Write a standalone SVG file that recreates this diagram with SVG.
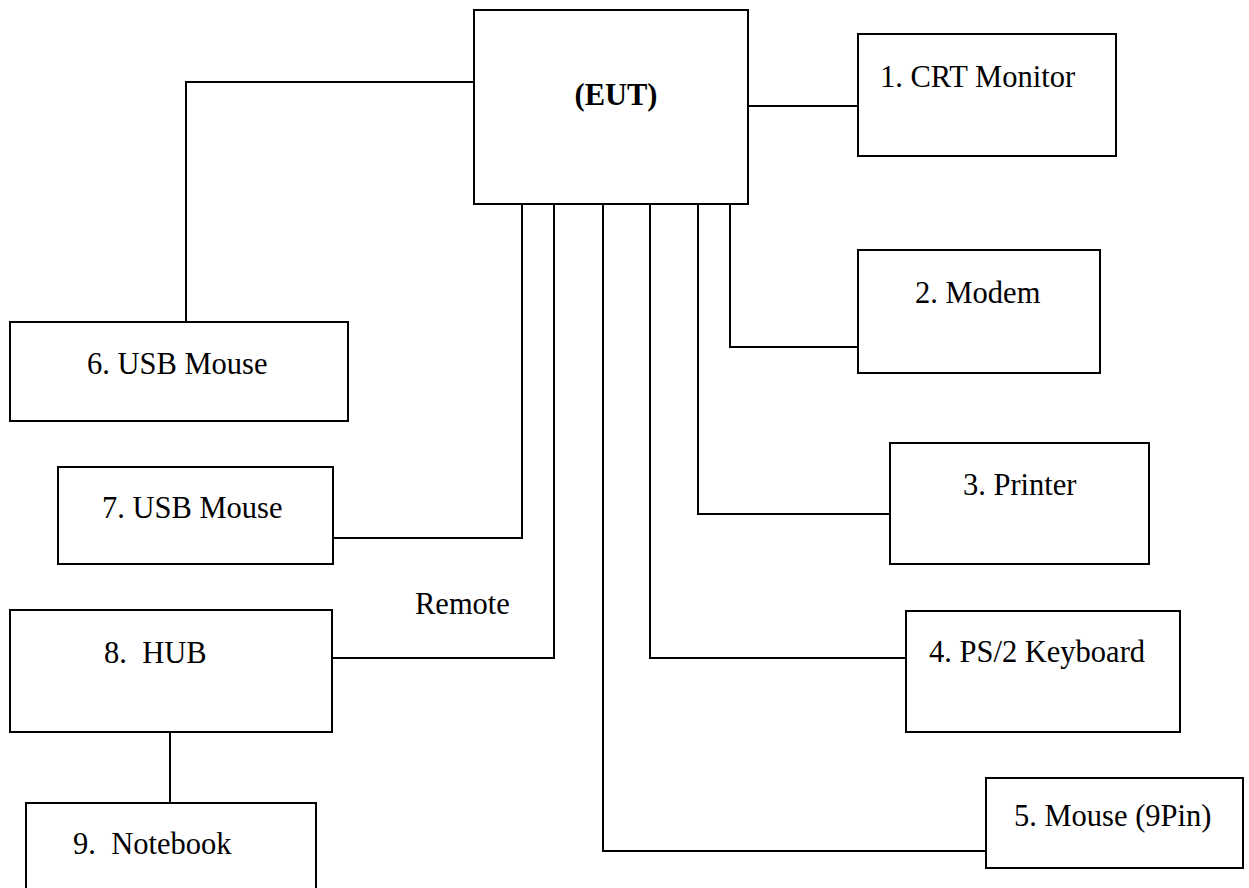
<svg xmlns="http://www.w3.org/2000/svg" width="1249" height="888" viewBox="0 0 1249 888">
<style>
.box{fill:#fff;stroke:#000;stroke-width:2}
.wire{fill:none;stroke:#000;stroke-width:2}
.lbl{font-family:"Liberation Serif","Times New Roman",serif;font-size:30.5px;fill:#000;white-space:pre}
.bold{font-weight:bold}
</style>
<rect width="1249" height="888" fill="#fff"/>
<g id="connectors">
<polyline class="wire" points="474,82 186,82 186,322"/>
<polyline class="wire" points="746,106 858,106"/>
<polyline class="wire" points="730,204 730,347 858,347"/>
<polyline class="wire" points="698,204 698,514 890,514"/>
<polyline class="wire" points="650,204 650,658 906,658"/>
<polyline class="wire" points="603,204 603,851 986,851"/>
<polyline class="wire" points="522,204 522,538 331,538"/>
<polyline class="wire" points="554,204 554,658 331,658"/>
<polyline class="wire" points="170,730 170,803"/>
</g>
<g id="eut">
<rect class="box" x="474" y="10" width="274" height="194"/>
<text class="lbl bold" x="616" y="105" text-anchor="middle">(EUT)</text>
</g>
<g id="n1">
<rect class="box" x="858" y="34" width="258" height="122"/>
<text class="lbl" x="880" y="87">1. CRT Monitor</text>
</g>
<g id="n2">
<rect class="box" x="858" y="250" width="242" height="123"/>
<text class="lbl" x="915" y="303">2. Modem</text>
</g>
<g id="n3">
<rect class="box" x="890" y="443" width="259" height="121"/>
<text class="lbl" x="963" y="495">3. Printer</text>
</g>
<g id="n4">
<rect class="box" x="906" y="611" width="274" height="121"/>
<text class="lbl" x="929" y="662">4. PS/2 Keyboard</text>
</g>
<g id="n5">
<rect class="box" x="986" y="778" width="257" height="90"/>
<text class="lbl" x="1014" y="826">5. Mouse (9Pin)</text>
</g>
<g id="n6">
<rect class="box" x="10" y="322" width="338" height="99"/>
<text class="lbl" x="87" y="374">6. USB Mouse</text>
</g>
<g id="n7">
<rect class="box" x="58" y="467" width="275" height="97"/>
<text class="lbl" x="102" y="518">7. USB Mouse</text>
</g>
<g id="remote">
<text class="lbl" x="415" y="614">Remote</text>
</g>
<g id="n8">
<rect class="box" x="10" y="610" width="322" height="122"/>
<text class="lbl" x="104" y="663">8.  HUB</text>
</g>
<g id="n9">
<rect class="box" x="26" y="803" width="290" height="90"/>
<text class="lbl" x="73" y="854">9.  Notebook</text>
</g>
</svg>
